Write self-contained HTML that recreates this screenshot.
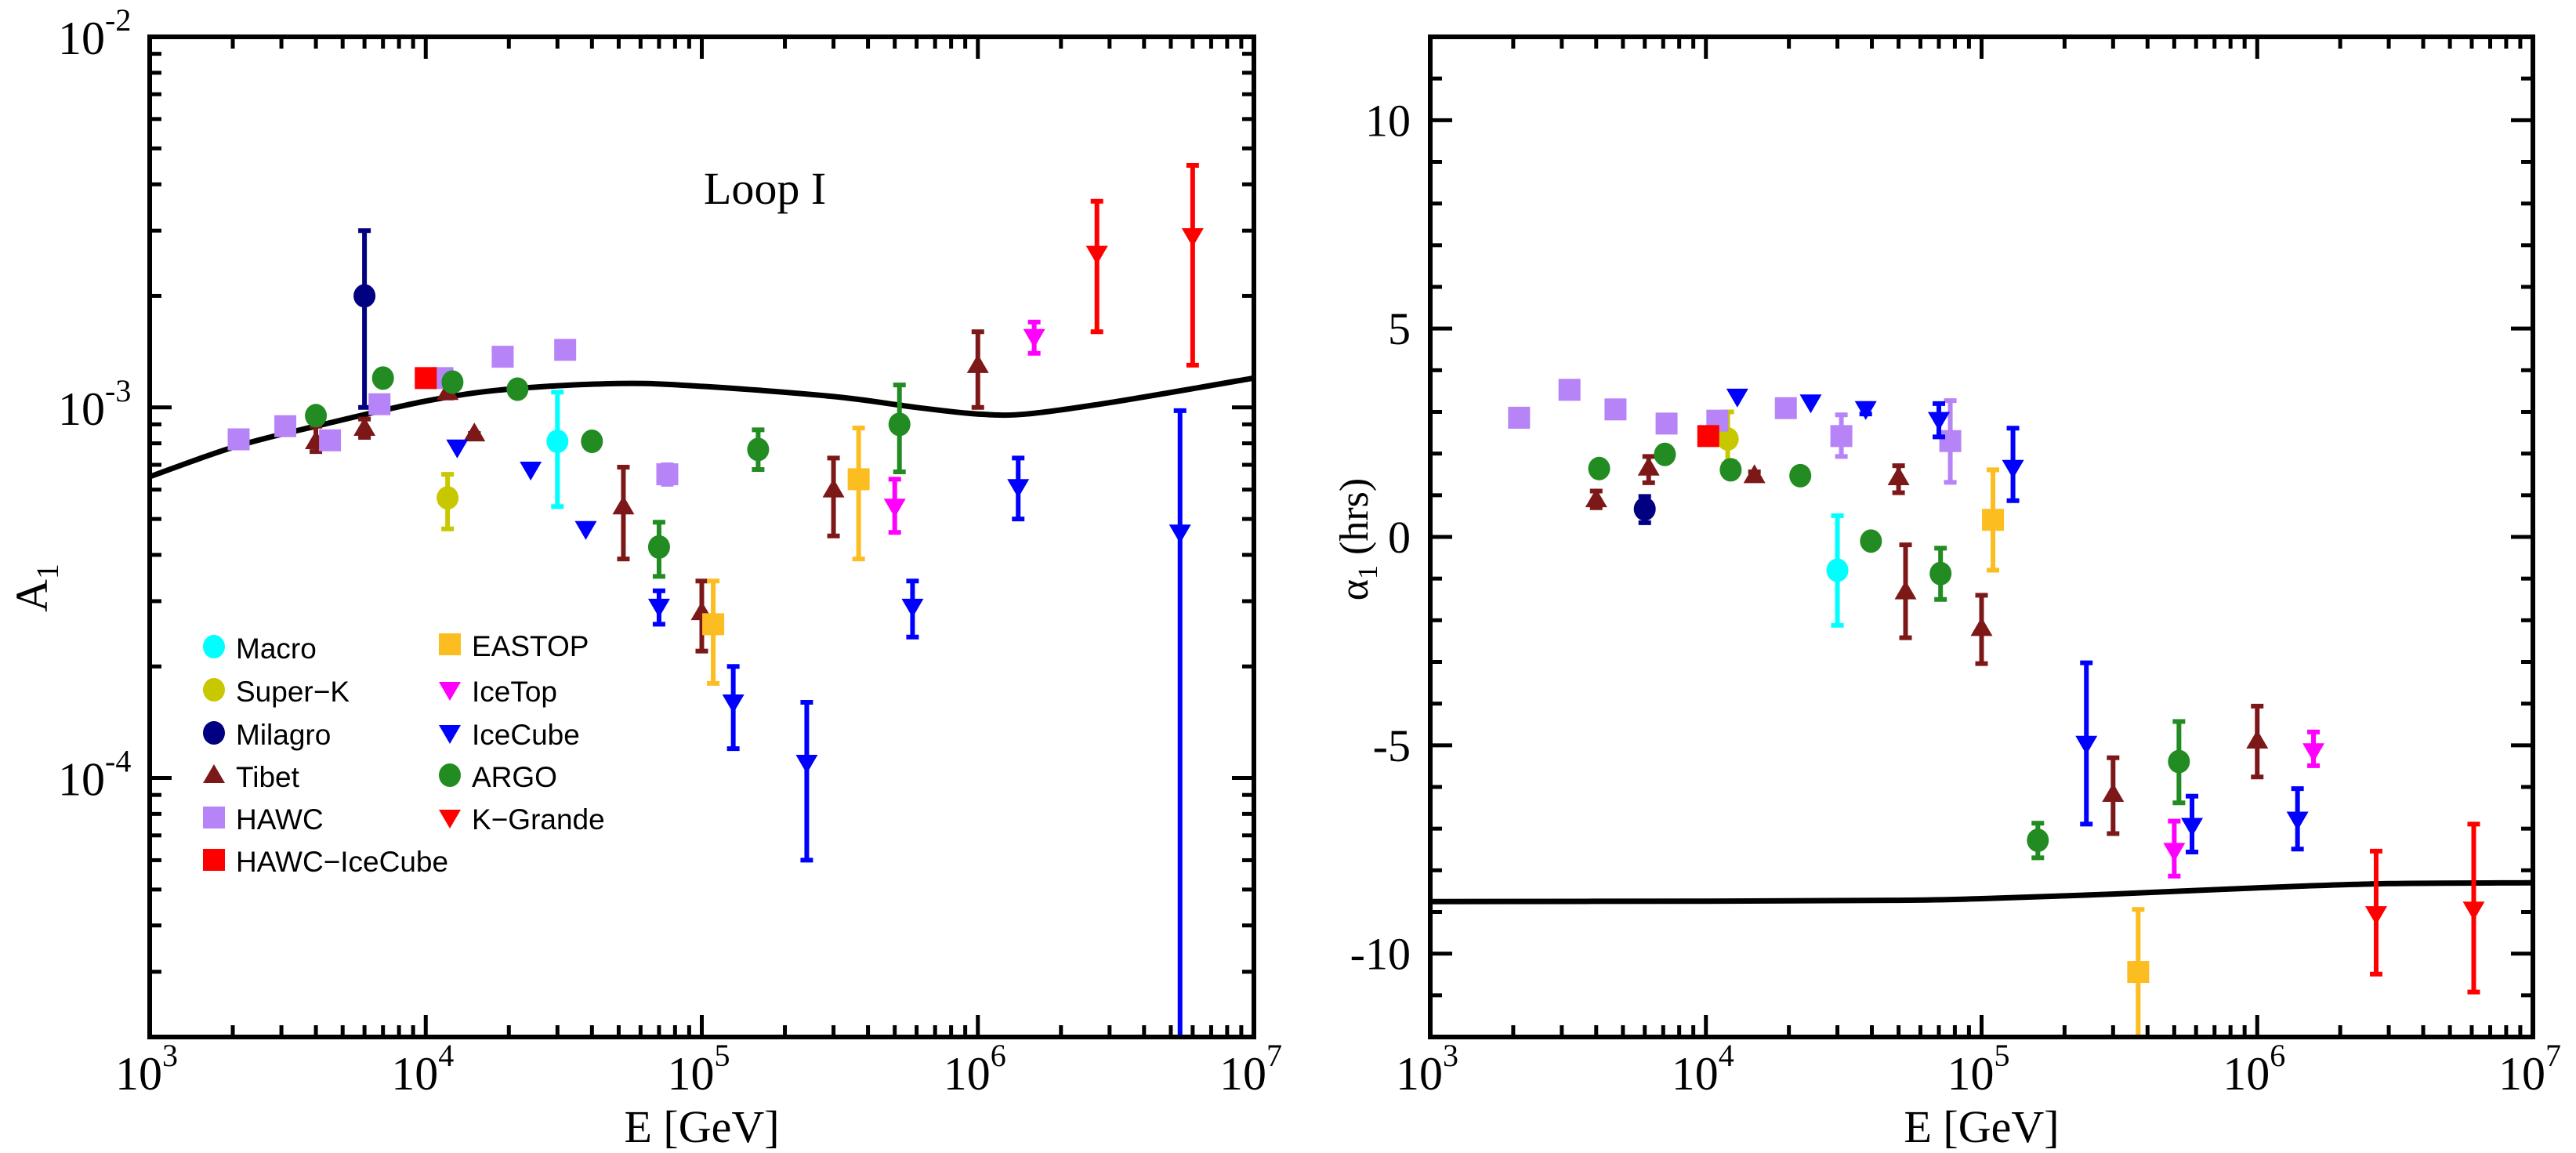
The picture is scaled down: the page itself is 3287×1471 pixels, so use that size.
<!DOCTYPE html>
<html><head><meta charset="utf-8">
<style>
html,body{margin:0;padding:0;background:#fff;}
svg{display:block;}
text{font-family:"Liberation Serif",serif;}
.lg{font-family:"Liberation Sans",sans-serif;font-size:37px;}
</style></head>
<body>
<svg id="chart" width="3287" height="1471" viewBox="0 0 3287 1471" xmlns="http://www.w3.org/2000/svg"></svg>
<script>
// ---- data: [E (GeV), value, lowErr, highErr] ; left panel = amplitude A1, right = phase alpha1 (hrs)
const macroA   = [[3e4,8.1e-4,5.4e-4,1.1e-3]];
const superkA  = [[1.2e4,5.7e-4,4.7e-4,6.6e-4]];
const milagroA = [[6e3,2.0e-3,1.0e-3,3.0e-3]];
const tibetA   = [[4e3,8.1e-4,7.6e-4,8.9e-4],[6e3,8.8e-4,8.3e-4,9.3e-4],[1.2e4,1.1e-3,1.06e-3,1.14e-3],[1.5e4,8.5e-4,8.5e-4,8.5e-4],[5.2e4,5.4e-4,3.9e-4,6.9e-4],[1e5,2.8e-4,2.2e-4,3.4e-4],[3e5,6.0e-4,4.5e-4,7.3e-4],[1e6,1.3e-3,1.0e-3,1.6e-3]];
const hawcA    = [[2.1e3,8.2e-4],[3.1e3,8.9e-4],[4.5e3,8.15e-4],[6.8e3,1.02e-3],[1.15e4,1.2e-3],[1.9e4,1.37e-3],[3.2e4,1.43e-3],[7.5e4,6.6e-4,6.2e-4,7.0e-4]];
const hicA     = [[1e4,1.2e-3]];
const eastopA  = [[1.1e5,2.6e-4,1.8e-4,3.4e-4],[3.7e5,6.4e-4,3.9e-4,8.8e-4]];
const icetopA  = [[5e5,5.4e-4,4.6e-4,6.4e-4],[1.6e6,1.55e-3,1.4e-3,1.7e-3]];
const icecubeA = [[1.3e4,7.8e-4],[2.4e4,6.8e-4],[3.8e4,4.7e-4],[7e4,2.9e-4,2.6e-4,3.2e-4],[1.3e5,1.6e-4,1.2e-4,2.0e-4],[2.4e5,1.1e-4,6e-5,1.6e-4],[5.8e5,2.9e-4,2.4e-4,3.4e-4],[1.4e6,6.1e-4,5.0e-4,7.3e-4],[5.4e6,4.6e-4,2e-5,9.8e-4]];
const argoA    = [[4e3,9.5e-4],[7e3,1.2e-3],[1.25e4,1.17e-3],[2.15e4,1.12e-3],[4e4,8.1e-4,7.8e-4,8.4e-4],[7e4,4.2e-4,3.5e-4,4.9e-4],[1.6e5,7.7e-4,6.8e-4,8.7e-4],[5.2e5,9.0e-4,6.7e-4,1.15e-3]];
const kgrandeA = [[2.7e6,2.6e-3,1.6e-3,3.6e-3],[6e6,2.9e-3,1.3e-3,4.5e-3]];
const curveAE  = [1e3,2e3,4e3,1e4,2e4,5e4,1e5,3e5,6e5,1e6,1.5e6,3e6,1e7];
const curveAV  = [6.5e-4,7.8e-4,8.9e-4,1.04e-3,1.12e-3,1.16e-3,1.14e-3,1.07e-3,1.0e-3,9.6e-4,9.6e-4,1.03e-3,1.2e-3];

const macroP   = [[3e4,-0.8,-2.12,0.51]];
const superkP  = [[1.2e4,2.35,1.75,3.0]];
const milagroP = [[6e3,0.67,0.34,0.97]];
const tibetP   = [[4e3,0.9,0.7,1.1],[6.2e3,1.66,1.3,1.93],[1.5e4,1.48,1.4,1.56],[5e4,1.43,1.06,1.71],[5.3e4,-1.31,-2.42,-0.19],[1e5,-2.19,-3.04,-1.4],[3e5,-6.17,-7.12,-5.3],[1e6,-4.89,-5.76,-4.06]];
const hawcP    = [[2.1e3,2.86],[3.2e3,3.53],[4.7e3,3.06],[7.2e3,2.72],[1.1e4,2.79],[1.95e4,3.09],[3.1e4,2.42,1.93,2.93],[7.7e4,2.3,1.31,3.27]];
const hicP     = [[1.02e4,2.42]];
const eastopP  = [[1.1e5,0.41,-0.8,1.61],[3.7e5,-10.44,-12,-8.94]];
const icetopP  = [[5e5,-7.53,-8.14,-6.82],[1.6e6,-5.14,-5.49,-4.68]];
const icecubeP = [[1.3e4,3.37],[2.4e4,3.23],[3.8e4,3.07,2.95,3.2],[7e4,2.81,2.4,3.2],[1.3e5,1.66,0.87,2.61],[2.4e5,-4.96,-6.89,-3.02],[5.8e5,-6.93,-7.56,-6.22],[1.4e6,-6.78,-7.49,-6.04]];
const argoP    = [[4.1e3,1.64],[7.1e3,1.98],[1.23e4,1.61,1.45,1.8],[2.2e4,1.47],[3.97e4,-0.1,-0.25,0.05],[7.1e4,-0.88,-1.5,-0.27],[1.6e5,-7.28,-7.7,-6.87],[5.2e5,-5.39,-6.38,-4.43]];
const kgrandeP = [[2.7e6,-9.05,-10.49,-7.54],[6.1e6,-8.94,-10.92,-6.89]];
const curvePE  = [1e3,1e4,5e4,1e5,3e5,1e6,3e6,1e7];
const curvePV  = [-8.75,-8.74,-8.72,-8.68,-8.57,-8.42,-8.32,-8.3];

const xTicks = [3,4,5,6,7];
const aTicks = [-2,-3,-4];
const pTicks = [10,5,0,-5,-10];

const svg = document.getElementById('chart');
const NS = 'http://www.w3.org/2000/svg';
function mk(tag, attrs, parent){ const e=document.createElementNS(NS,tag); for(const k in attrs) e.setAttribute(k,attrs[k]); (parent||svg).appendChild(e); return e; }

const series = [
 {n:'macro',   lab:'Macro',   c:'#00ffff', m:'circle'},
 {n:'superk',  lab:'Super\u2212K', c:'#c8c800', m:'circle'},
 {n:'milagro', lab:'Milagro', c:'#000080', m:'circle'},
 {n:'tibet',   lab:'Tibet',   c:'#7d1818', m:'up'},
 {n:'hawc',    lab:'HAWC',    c:'#b784f7', m:'square'},
 {n:'hic',     lab:'HAWC\u2212IceCube', c:'#ff0000', m:'square'},
 {n:'eastop',  lab:'EASTOP',  c:'#fcbd21', m:'square'},
 {n:'icetop',  lab:'IceTop',  c:'#ff00ff', m:'down'},
 {n:'icecube', lab:'IceCube', c:'#0000ff', m:'down'},
 {n:'argo',    lab:'ARGO',    c:'#228b22', m:'circle'},
 {n:'kgrande', lab:'K\u2212Grande', c:'#ff0000', m:'down'}
];
const dataA = {macro:macroA,superk:superkA,milagro:milagroA,tibet:tibetA,hawc:hawcA,hic:hicA,eastop:eastopA,icetop:icetopA,icecube:icecubeA,argo:argoA,kgrande:kgrandeA};
const dataP = {macro:macroP,superk:superkP,milagro:milagroP,tibet:tibetP,hawc:hawcP,hic:hicP,eastop:eastopP,icetop:icetopP,icecube:icecubeP,argo:argoP,kgrande:kgrandeP};

function marker(g,type,x,y,c,s){
  s = s||1;
  let e;
  if(type==='circle'){ e=mk('ellipse',{cx:x,cy:y,rx:14*s,ry:15*s,fill:c},g); }
  else if(type==='square'){ e=mk('rect',{x:x-14*s,y:y-14*s,width:28*s,height:28*s,fill:c},g); }
  else if(type==='up'){ e=mk('polygon',{points:`${x-14*s},${y+10*s} ${x+14*s},${y+10*s} ${x},${y-14*s}`,fill:c},g); }
  else { e=mk('polygon',{points:`${x-14*s},${y-10*s} ${x+14*s},${y-10*s} ${x},${y+14*s}`,fill:c},g); }
  return e;
}

function smoothPath(P){
  let d=`M${P[0][0].toFixed(1)},${P[0][1].toFixed(1)}`;
  for(let i=0;i<P.length-1;i++){
    const p0=P[Math.max(0,i-1)], p1=P[i], p2=P[i+1], p3=P[Math.min(P.length-1,i+2)];
    const c1=[p1[0]+(p2[0]-p0[0])/6, p1[1]+(p2[1]-p0[1])/6];
    const c2=[p2[0]-(p3[0]-p1[0])/6, p2[1]-(p3[1]-p1[1])/6];
    d+=` C${c1[0].toFixed(1)},${c1[1].toFixed(1)} ${c2[0].toFixed(1)},${c2[1].toFixed(1)} ${p2[0].toFixed(1)},${p2[1].toFixed(1)}`;
  }
  return d;
}

function panel(cfg){
  const {L,R,T,B,xs,ys,name} = cfg;
  const g = mk('g',{});
  
  
  const tg = mk('g',{stroke:'#000','stroke-width':5},g);
  
  
  for(let d=3; d<7; d++){
    for(let k=2;k<=9;k++){
      const x=xs(k*Math.pow(10,d));
      mk('line',{x1:x,y1:B,x2:x,y2:B-15},tg); mk('line',{x1:x,y1:T,x2:x,y2:T+15},tg);
    }
  }
  xTicks.forEach(p=>{
    const x=xs(Math.pow(10,p));
    mk('line',{x1:x,y1:B,x2:x,y2:B-28},tg); mk('line',{x1:x,y1:T,x2:x,y2:T+28},tg);
    const t=mk('text',{x:x-4,y:1390,'font-size':60,'text-anchor':'middle'},g);
    
    
    t.textContent='10';
    const s=mk('tspan',{dy:-30,'font-size':40},t); s.textContent=String(p);
  });
  cfg.yTicks(tg,g);
  const xt=mk('text',{x:(L+R)/2,y:1457,'font-size':58,'text-anchor':'middle'},g);
  
  
  xt.textContent='E [GeV]';
  const pts = cfg.cE.map((e,i)=>[xs(e), ys(cfg.cV[i])]);
  const cp = mk('path',{d:smoothPath(pts),fill:'none',stroke:'#000','stroke-width':7,'stroke-linejoin':'round'},g);
  
  
  series.forEach(s=>{
    const sg=mk('g',{},g);
    
    
    cfg.data[s.n].forEach(p=>{
      const x=xs(p[0]), y=ys(p[1]);
      if(p.length>2){
        const y1=ys(p[2]), y2=ys(p[3]);
        const eb=mk('g',{stroke:s.c,'stroke-width':6},sg);
        
        
        mk('line',{x1:x,y1:y1,x2:x,y2:y2},eb);
        mk('line',{x1:x-8,y1:y1,x2:x+8,y2:y1},eb);
        mk('line',{x1:x-8,y1:y2,x2:x+8,y2:y2},eb);
      }
      const m=marker(sg,s.m,x,y,s.c);
      
      
    });
  });
  const fr=mk('rect',{x:L,y:T,width:R-L,height:B-T,fill:'none',stroke:'#000','stroke-width':6},g);
  
  
  return g;
}

// left panel
const LL=191,LR=1600,T=47,B=1323;
const xsL = e => LL + (Math.log10(e)-3)/4*(LR-LL);
const ymin=Math.log10(2e-5), ymax=-2;
const ysL = v => T + (ymax-Math.log10(v))/(ymax-ymin)*(B-T);
panel({L:LL,R:LR,T,B,xs:xsL,ys:ysL,name:'amplitude-panel',cE:curveAE,cV:curveAV,data:dataA,
 yTicks:(tg,g)=>{
  for(let d=-5; d<-2; d++){
    for(let k=1;k<=9;k++){
      const v=k*Math.pow(10,d); if(v<2e-5||k===1) continue;
      const y=ysL(v);
      mk('line',{x1:LL,y1:y,x2:LL+15,y2:y},tg); mk('line',{x1:LR,y1:y,x2:LR-15,y2:y},tg);
    }
  }
  aTicks.forEach(p=>{
    const y=ysL(Math.pow(10,p));
    mk('line',{x1:LL,y1:y,x2:LL+28,y2:y},tg); mk('line',{x1:LR,y1:y,x2:LR-28,y2:y},tg);
    const t=mk('text',{x:74,y:y+22,'font-size':60},g);
    
    
    t.textContent='10';
    const s=mk('tspan',{dy:-30,'font-size':40},t); s.textContent=String(p);
  });
  const yt=mk('text',{transform:'translate(60,750) rotate(-90)','font-size':58,'text-anchor':'middle'},g);
  
  
  yt.textContent='A';
  const sb=mk('tspan',{dy:14,'font-size':40},yt); sb.textContent='1';
 }});

const loop=mk('text',{x:898,y:260,'font-size':58});


loop.textContent='Loop I';

const lgd=mk('g',{});


const legendPos=[[273,825],[273,880],[273,935],[273,989],[273,1043],[273,1097],[574,822],[574,880],[574,935],[574,989],[574,1043]];
series.forEach((s,i)=>{
  const [x,y]=legendPos[i];
  const eg=mk('g',{},lgd);
  
  
  marker(eg,s.m,x,y,s.c,1);
  const t=mk('text',{x:x+28,y:y+15,class:'lg'},eg);
  t.textContent=s.lab;
});

// right panel
const RL=1825,RR=3232;
const xsR = e => RL + (Math.log10(e)-3)/4*(RR-RL);
const ysR = v => T + (12-Math.max(-12,Math.min(12,v)))/24*(B-T);
panel({L:RL,R:RR,T,B,xs:xsR,ys:ysR,name:'phase-panel',cE:curvePE,cV:curvePV,data:dataP,
 yTicks:(tg,g)=>{
  for(let v=-11; v<=11; v++){
    const y=ysR(v), big=(v%5===0);
    const len=big?28:15;
    mk('line',{x1:RL,y1:y,x2:RL+len,y2:y},tg); mk('line',{x1:RR,y1:y,x2:RR-len,y2:y},tg);
  }
  pTicks.forEach(v=>{
    const t=mk('text',{x:1800,y:ysR(v)+20,'font-size':58,'text-anchor':'end'},g);
    
    
    t.textContent=String(v);
  });
  const yt=mk('text',{transform:'translate(1745,688) rotate(-90)','font-size':52,'text-anchor':'middle'},g);
  
  
  yt.textContent='\u03b1';
  const sb=mk('tspan',{dy:12,'font-size':36},yt); sb.textContent='1';
  const sc=mk('tspan',{dy:-12,'font-size':52},yt); sc.textContent=' (hrs)';
 }});
</script>
</body></html>
